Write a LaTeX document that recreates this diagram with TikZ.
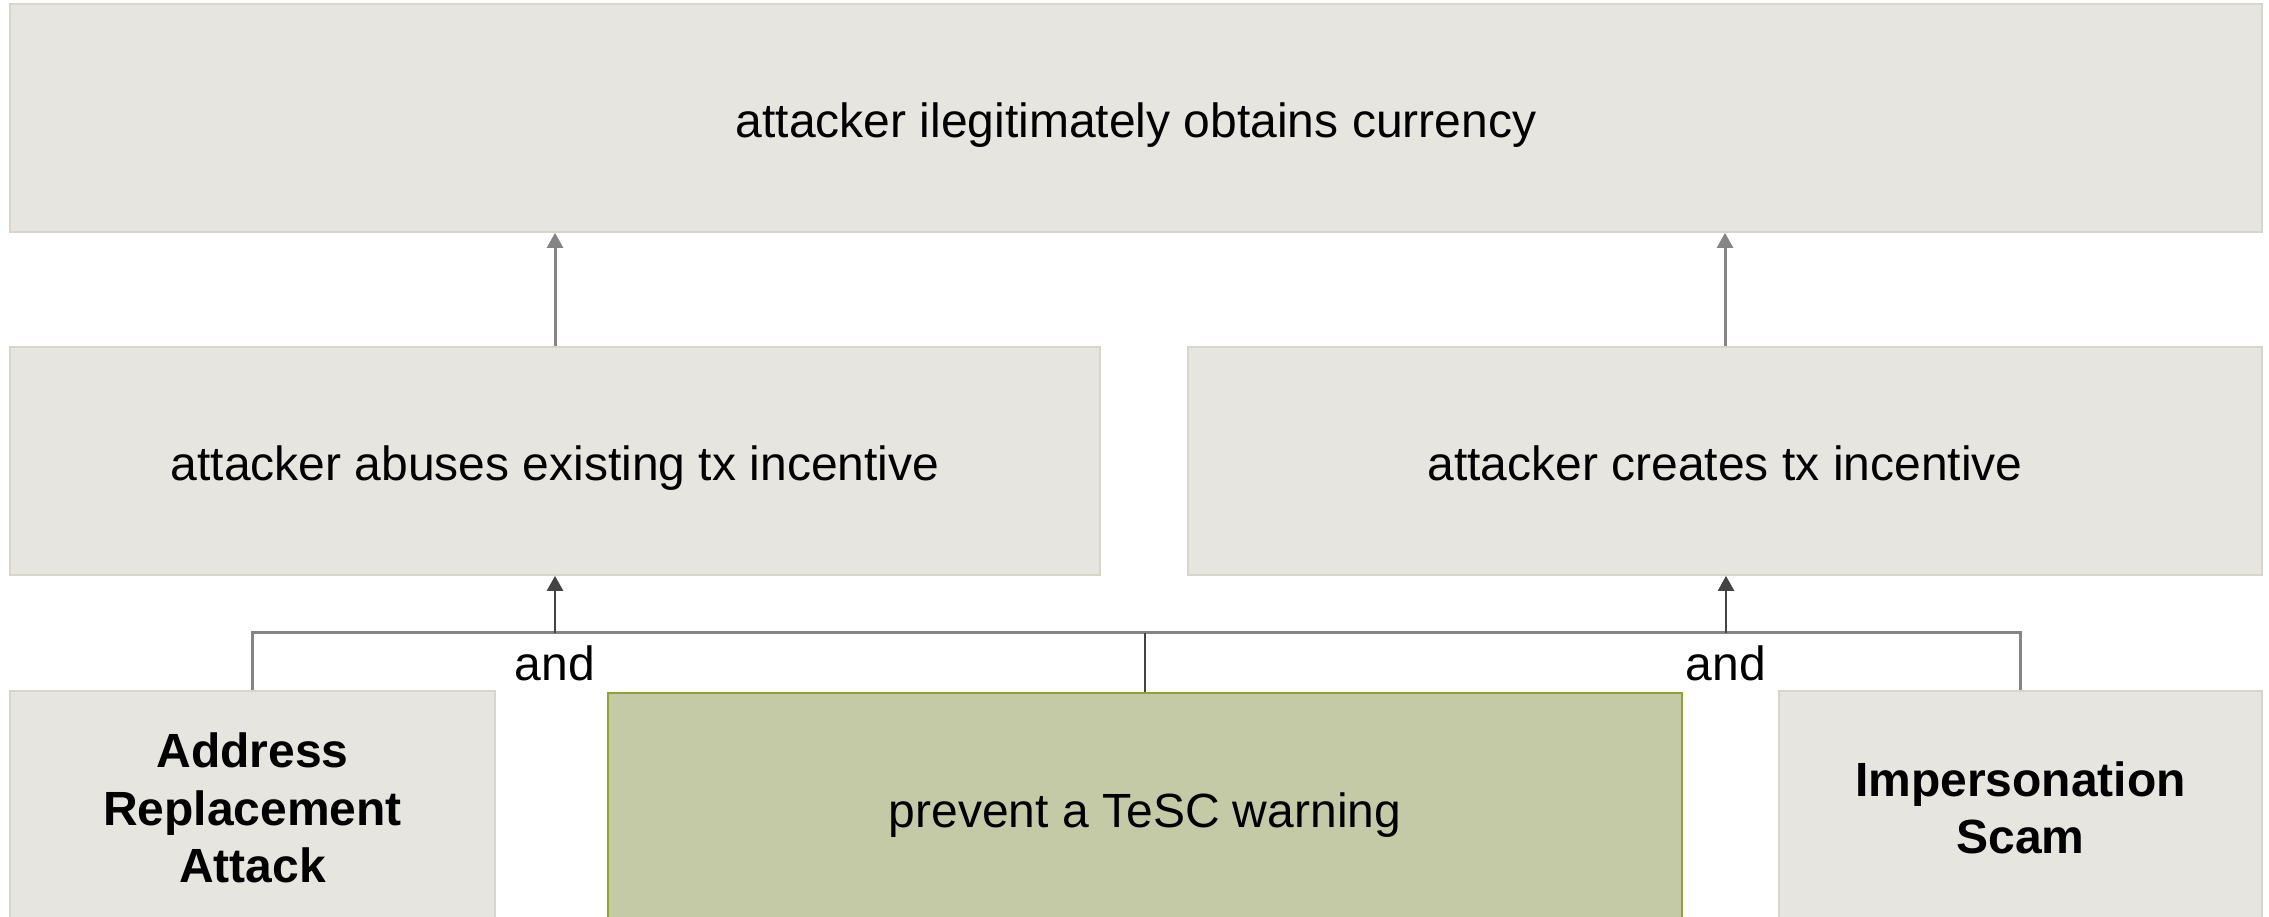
\documentclass[tikz,border=0pt]{standalone}
\usepackage{fontspec}
\setmainfont{Liberation Sans}
\usetikzlibrary{arrows.meta}
\definecolor{boxfill}{HTML}{E7E5DF}
\definecolor{boxline}{HTML}{D8D5CB}
\definecolor{goalfill}{HTML}{C3CAA5}
\definecolor{goalline}{HTML}{8FA32E}
\definecolor{linkgray}{HTML}{858585}
\definecolor{linkdark}{HTML}{444444}
\tikzset{
	box/.style={draw=boxline, fill=boxfill, line width=0.4pt, inner sep=0pt,
		font=\fontsize{12}{14.4}\selectfont, align=center},
	oneline/.style={box, text height=10pt, text depth=0pt},
	attack/.style={box, font=\fontsize{12}{14.3}\selectfont\bfseries},
	goal/.style={oneline, draw=goalline, fill=goalfill, line width=0.5pt},
	uparrow/.style={draw=linkgray, line width=0.75pt, -{Triangle[length=3.8pt,width=4pt]}},
	downarrow/.style={draw=linkdark, line width=0.7pt, -{Triangle[length=3.8pt,width=4pt]}},
	link/.style={draw=linkgray, line width=0.75pt},
	darklink/.style={draw=linkdark, line width=0.7pt},
	andlabel/.style={font=\fontsize{12}{14.4}\selectfont, inner sep=0pt}
}
\begin{document}
\begin{tikzpicture}[x=0.25pt,y=0.25pt]
	\useasboundingbox (0,0) rectangle (2269,917);
	% goals
	\node[oneline, minimum width=563pt, minimum height=57pt] (top) at (1136,799) {attacker ilegitimately obtains currency};
	\node[oneline, minimum width=272.5pt, minimum height=57pt] (abuse) at (555,456) {attacker abuses existing tx incentive};
	\node[oneline, minimum width=268.5pt, minimum height=57pt] (creates) at (1725,456) {attacker creates tx incentive};
	% leaves
	\node[attack, minimum width=121.25pt, minimum height=58.5pt] (address) at (252.5,109) {Address\\Replacement\\Attack};
	\node[goal, minimum width=268.5pt, minimum height=57.5pt] (tesc) at (1145,109) {prevent a TeSC warning};
	\node[attack, minimum width=120.75pt, minimum height=58.5pt] (scam) at (2020.5,109) {Impersonation\\Scam};
	\coordinate (andL) at (555,284);
	\coordinate (andR) at (1726,284);
	\draw[uparrow] (abuse.north) -- (abuse.north |- top.south);
	\draw[uparrow] (creates.north) -- (creates.north |- top.south);
	\draw[link] (address.north) |- (tesc.north |- andL) -| (scam.north);
	\draw[darklink] (tesc.north) -- (tesc.north |- andL);
	\draw[downarrow] (andL) -- (abuse.south);
	\draw[downarrow] (andR) -- (andR |- creates.south);
	\node[andlabel] (and1) at (555,254) {and};
	\node[andlabel] (and2) at (1726,254) {and};
\end{tikzpicture}
\end{document}
